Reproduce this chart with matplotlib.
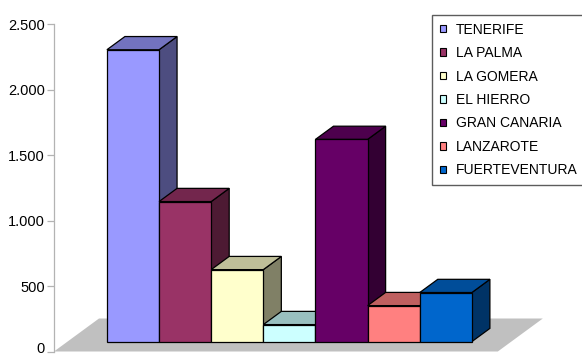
import matplotlib
matplotlib.use("Agg")
import matplotlib.pyplot as plt
from matplotlib.patches import Rectangle, Polygon, Patch
from matplotlib.colors import to_rgb
from matplotlib.transforms import ScaledTranslation

plt.rcParams["font.family"] = ["Liberation Sans", "DejaVu Sans"]

# --- data ---
islands = ["TENERIFE", "LA PALMA", "LA GOMERA", "EL HIERRO",
           "GRAN CANARIA", "LANZAROTE", "FUERTEVENTURA"]
values = [2230, 1070, 550, 130, 1545, 275, 375]
colors = ["#9999FF", "#993366", "#FFFFCC", "#CCFFFF",
          "#660066", "#FF8080", "#0066CC"]
y_ticks = [0, 500, 1000, 1500, 2000, 2500]
y_tick_labels = ["0", "500", "1.000", "1.500", "2.000", "2.500"]

# --- layout (pixels of a 582x356 image) ---
W, H = 582, 356
AX_LEFT, AX_ZERO, AX_TOP = 54, 351.5, 24.3
CAT_PX = 52.14            # width of one bar
FLOOR_DX, FLOOR_DY = 45, 33   # depth of the floor in pixels
MARGIN = 0.756            # floor margin beside the bars (in bars)

fig = plt.figure(figsize=(W / 100, H / 100), dpi=100)
ax = fig.add_axes([AX_LEFT / W, (H - AX_ZERO) / H,
                   (W - AX_LEFT) / W, (AX_ZERO - AX_TOP) / H])
ymax = y_ticks[-1]
ax.set_xlim(0, (W - AX_LEFT) / CAT_PX)
ax.set_ylim(0, ymax)

px_y = ymax / (AX_ZERO - AX_TOP)   # data units per pixel, vertical
dx = FLOOR_DX / CAT_PX
dy = FLOOR_DY * px_y

n = len(values)
floor_w = n + 2 * MARGIN
ax.add_patch(Polygon([(0, 0), (floor_w, 0), (floor_w + dx, dy), (dx, dy)],
                     closed=True, facecolor="#C0C0C0", edgecolor="none",
                     clip_on=False, zorder=1))


def shade(c, f):
    r, g, b = to_rgb(c)
    return (r * f, g * f, b * f)


# bars sit between 30% and 70% of the floor depth
x0 = MARGIN + 0.3 * dx
yb = 0.3 * dy
ddx, ddy = 0.4 * dx, 0.4 * dy
ekw = dict(edgecolor="black", linewidth=0.9, joinstyle="miter", clip_on=False)
for i, (v, c) in enumerate(zip(values, colors)):
    xl, xr = x0 + i, x0 + i + 1
    yt = yb + v
    z = 2 + i
    ax.add_patch(Polygon([(xr, yb), (xr + ddx, yb + ddy), (xr + ddx, yt + ddy), (xr, yt)],
                         facecolor=shade(c, 0.5), zorder=z, **ekw))
    ax.add_patch(Polygon([(xl, yt), (xr, yt), (xr + ddx, yt + ddy), (xl + ddx, yt + ddy)],
                         facecolor=shade(c, 0.75), zorder=z, **ekw))
    ax.add_patch(Rectangle((xl, yb), 1, v, facecolor=c, zorder=z, **ekw))

# axis styling
for s in ["top", "right", "bottom"]:
    ax.spines[s].set_visible(False)
ax.spines["left"].set_color("#B3B3B3")
ax.spines["left"].set_linewidth(0.9)
ax.set_yticks(y_ticks)
ax.set_yticklabels(y_tick_labels)
ax.set_xticks([])
ax.tick_params(axis="y", colors="#B3B3B3", labelcolor="black",
               length=5, width=0.9, pad=1.5, labelsize=10.5)
ax.patch.set_alpha(0)

# keep the "0" label inside the image
zero_lbl = ax.get_yticklabels()[0]
zero_lbl.set_transform(zero_lbl.get_transform() +
                       ScaledTranslation(0, 3 / 72, fig.dpi_scale_trans))

# legend
handles = [Patch(facecolor=c, edgecolor="black", linewidth=0.8) for c in colors]
leg = fig.legend(handles, islands, loc="upper left",
                 bbox_to_anchor=(432 / W, (H - 15) / H),
                 fontsize=10, frameon=True, fancybox=False, shadow=False,
                 handlelength=0.45, handleheight=0.45, handletextpad=0.7,
                 labelspacing=0.68, borderpad=0.55, borderaxespad=0)
frame = leg.get_frame()
frame.set_edgecolor("#333333")
frame.set_linewidth(1.0)

fig.savefig("out.png", dpi=100)
